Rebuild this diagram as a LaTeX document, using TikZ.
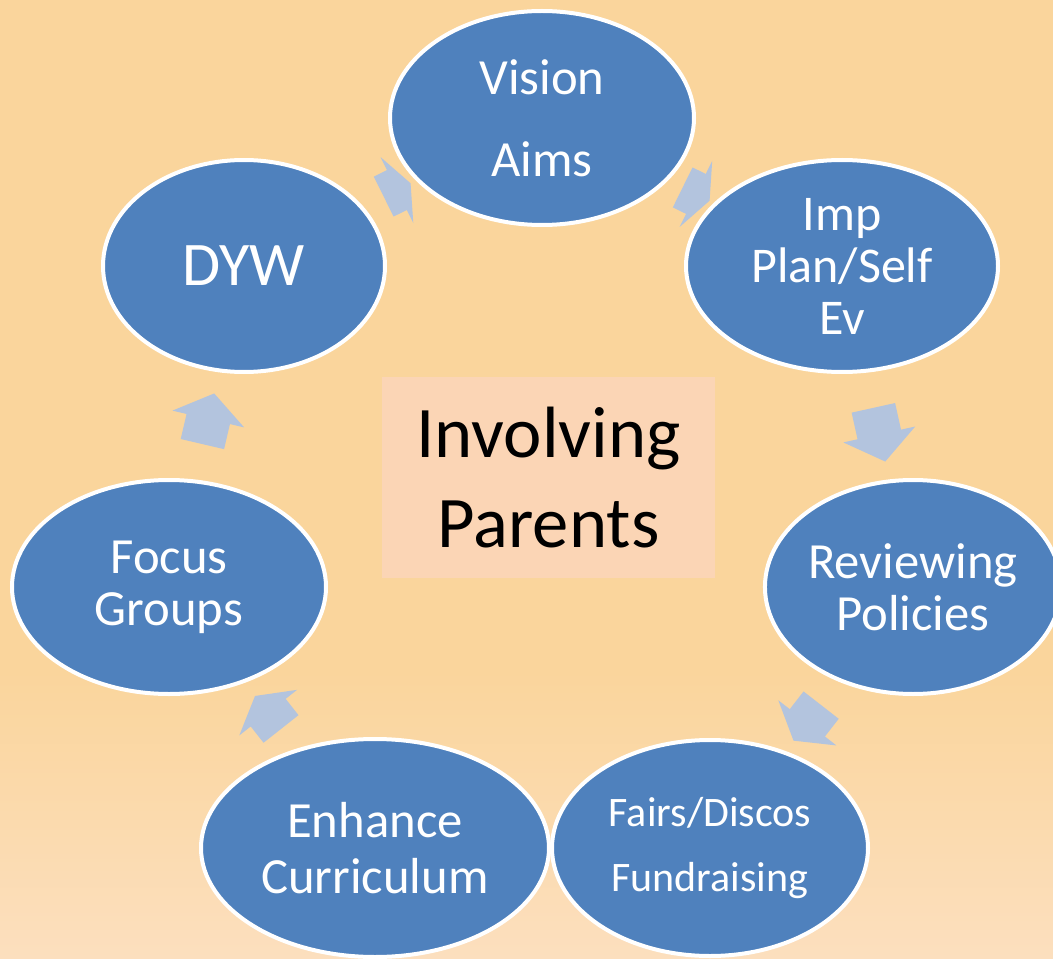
\documentclass[tikz,border=0pt]{standalone}
\usepackage{fontspec}
\setmainfont{Carlito}
\usetikzlibrary{shapes.geometric,shapes.arrows}

\definecolor{bgmain}{RGB}{250,213,156}
\definecolor{bglight}{RGB}{252,223,190}
\definecolor{cycleblue}{RGB}{79,129,189}
\definecolor{arrowblue}{RGB}{179,196,222}
\definecolor{centrefill}{RGB}{251,213,181}
\pgfdeclareverticalshading{bgshade}{100bp}{color(0bp)=(bglight); color(25bp)=(bglight); color(40bp)=(bgmain); color(100bp)=(bgmain)}

\begin{document}
\begin{tikzpicture}[
		x=0.75pt, y=-0.75pt,
		stage/.style 2 args={ellipse, fill=cycleblue, draw=white, line width=3pt, inner sep=0pt, text=white, align=center,
				minimum width=#1*0.75pt, minimum height=#2*0.75pt},
		cyclearrow/.style 2 args={single arrow, fill=arrowblue, draw=none, inner xsep=0pt, inner ysep=16.5pt,
				single arrow head extend=10.9pt, minimum height=#1*0.75pt, single arrow tip angle=#2,
				midway, sloped, allow upside down},
	]
	\path[use as bounding box] (0,0) rectangle (1053,959);
	\fill[shading=bgshade] (0,0) rectangle (1053,959);

	% the cycle
	\node[stage={304}{214}, font=\fontsize{38}{61.5}\selectfont] (vision) at (542,118) {Vision\\Aims};
	\node[stage={312}{212}, font=\fontsize{37.5}{39}\selectfont] (imp) at (842,266) {Imp\\Plan/Self\\Ev};
	\node[stage={276}{214}, font=\fontsize{38}{39}\selectfont] (review) at (913,587) {Reviewing\\Policies};
	\node[stage={316}{216}, font=\fontsize{31.5}{49}\selectfont] (fairs) at (710,848) {Fairs/Discos\\Fundraising};
	\node[stage={348}{218}, font=\fontsize{38}{42}\selectfont] (enhance) at (375,848) {Enhance\\Curriculum};
	\node[stage={314}{214}, font=\fontsize{38}{39}\selectfont] (focus) at (169,587) {Focus\\Groups};
	\node[stage={282}{212}, font=\fontsize{46.5}{50}\selectfont] (dyw) at (244,266) {DYW};

	\node[fill=centrefill, inner sep=0pt, minimum width=249.75pt, minimum height=150.75pt, align=center,
		font=\fontsize{54.5}{67.5}\selectfont] (centre) at (548.5,477.5) {Involving\\Parents};

	% arrows between the stages
	\path (dyw.center) -- (vision.center) node[cyclearrow={30}{135}] (a1) {};
	\path (vision.center) -- (imp.center) node[cyclearrow={30}{135}] (a2) {};
	\path (imp.center) -- (review.center) node[cyclearrow={55}{106}] (a3) {};
	\path (review.center) -- (fairs.center) node[cyclearrow={45}{117}] (a4) {};
	\path (enhance.center) -- (focus.center) node[cyclearrow={42}{120}] (a5) {};
	\path (focus.center) -- (dyw.center) node[cyclearrow={52}{109}] (a6) {};
\end{tikzpicture}
\end{document}
